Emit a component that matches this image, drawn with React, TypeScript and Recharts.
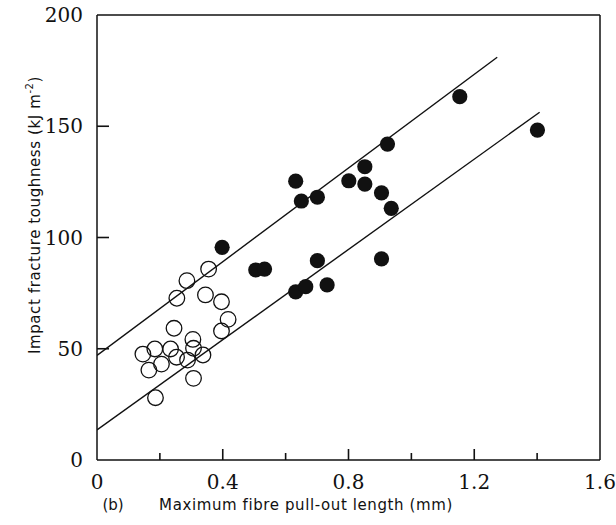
import React from "react";
import { ScatterChart, Scatter, XAxis, YAxis, ReferenceLine } from "recharts";

// open circles
const openLength = [0.355, 0.286, 0.254, 0.345, 0.396, 0.417, 0.396, 0.245, 0.305, 0.146, 0.184, 0.234, 0.253, 0.205, 0.165, 0.307, 0.288, 0.337, 0.307, 0.186];
const openToughness = [85.8, 80.6, 72.7, 74.2, 71.1, 63.2, 58.0, 59.2, 54.2, 47.6, 49.9, 49.9, 46.2, 43.1, 40.4, 50.2, 44.9, 47.2, 36.7, 28.0];

// filled circles
const filledLength = [0.398, 0.505, 0.533, 0.632, 0.664, 0.632, 0.65, 0.701, 0.701, 0.732, 0.801, 0.852, 0.852, 0.905, 0.905, 0.924, 0.936, 1.154, 1.401];
const filledToughness = [95.6, 85.4, 85.8, 75.6, 77.9, 125.3, 116.4, 118.1, 89.6, 78.7, 125.5, 131.8, 124.0, 120.1, 90.4, 142.0, 113.1, 163.3, 148.3];

// bounding lines (end points)
const upperLineX = [0, 1.273];
const upperLineY = [47, 181];
const lowerLineX = [0, 1.408];
const lowerLineY = [13.5, 156.3];

const xTicks = [0, 0.2, 0.4, 0.6, 0.8, 1.0, 1.2, 1.4, 1.6];
const xTickLabels = ["0", "", "0.4", "", "0.8", "", "1.2", "", "1.6"];
const yTicks = [0, 50, 100, 150, 200];
const yTickLabels = ["0", "50", "100", "150", "200"];

const zip = (xs: number[], ys: number[]) => xs.map((x, i) => ({ x, y: ys[i] }));

const openData = zip(openLength, openToughness);
const filledData = zip(filledLength, filledToughness);
const upperLine = zip(upperLineX, upperLineY);
const lowerLine = zip(lowerLineX, lowerLineY);

const INK = "#111";
const tickFont = "'DejaVu Serif', serif";
const titleFont = "'DejaVu Sans', sans-serif";

// tick labels only; the inward tick marks are drawn with ReferenceLine shapes
const XTick = (props: any) => {
  const i = xTicks.indexOf(props.payload.value);
  const label = xTickLabels[i] || "";
  if (!label) return <g />;
  return (
    <text x={props.x} y={Number(props.y) + 29} textAnchor="middle" fontFamily={tickFont} fontSize={20} fill={INK}>
      {label}
    </text>
  );
};

const YTick = (props: any) => {
  const i = yTicks.indexOf(props.payload.value);
  return (
    <text x={Number(props.x) - 14} y={Number(props.y) + 7} textAnchor="end" fontFamily={tickFont} fontSize={20} fill={INK}>
      {yTickLabels[i]}
    </text>
  );
};

const xMark = (len: number) => (p: any) => {
  const bottom = Math.max(Number(p.y1), Number(p.y2));
  return <line x1={p.x1} x2={p.x1} y1={bottom} y2={bottom - len} stroke={INK} strokeWidth={1.6} />;
};

const yMark = (len: number) => (p: any) => {
  const left = Math.min(Number(p.x1), Number(p.x2));
  return <line x1={left} x2={left + len} y1={p.y1} y2={p.y1} stroke={INK} strokeWidth={1.6} />;
};

const XTitle = () => (
  <g fontFamily={titleFont} fontSize={15} fill={INK}>
    <text x={113} y={510} textAnchor="middle">(b)</text>
    <text x={306} y={510} textAnchor="middle" letterSpacing={0.6}>
      Maximum fibre pull-out length (mm)
    </text>
  </g>
);

const YTitle = () => (
  <text
    x={35}
    y={215}
    transform="rotate(-90 35 215)"
    textAnchor="middle"
    dominantBaseline="central"
    fontFamily={titleFont}
    fontSize={15}
    fill={INK}
    letterSpacing={0.6}
  >
    Impact fracture toughness (kJ m
    <tspan dy={-6} fontSize={10}>-2</tspan>
    <tspan dy={6}>)</tspan>
  </text>
);

const OpenDot = (props: any) => (
  <circle cx={props.cx} cy={props.cy} r={7.8} fill="none" stroke={INK} strokeWidth={1.3} />
);
const FilledDot = (props: any) => <circle cx={props.cx} cy={props.cy} r={7.6} fill={INK} />;
const NoDot = () => <g />;

export default function App() {
  return (
    <div style={{ position: "absolute", left: 0, top: 0, background: "#fff" }}>
      <ScatterChart width={616} height={525} margin={{ top: 15, right: 16, left: 0, bottom: 0 }}>
        <XAxis
          type="number"
          dataKey="x"
          domain={[0, 1.6]}
          ticks={xTicks}
          interval={0}
          allowDataOverflow
          height={65}
          tickSize={0}
          tickMargin={0}
          tickLine={false}
          tick={<XTick />}
          axisLine={{ stroke: INK, strokeWidth: 1.5 }}
          label={{ content: () => <XTitle /> }}
        />
        <YAxis
          type="number"
          dataKey="y"
          domain={[0, 200]}
          ticks={yTicks}
          interval={0}
          allowDataOverflow
          width={97}
          tickSize={0}
          tickMargin={0}
          tickLine={false}
          tick={<YTick />}
          axisLine={{ stroke: INK, strokeWidth: 1.5 }}
          label={{ content: () => <YTitle /> }}
        />
        <ReferenceLine y={200} stroke={INK} strokeWidth={1.5} />
        <ReferenceLine x={1.6} stroke={INK} strokeWidth={1.5} />
        {xTicks.slice(1, -1).map((v, i) => (
          <ReferenceLine key={`xm${v}`} x={v} stroke={INK} shape={xMark(xTickLabels[i + 1] ? 11 : 7)} />
        ))}
        {yTicks.slice(1, -1).map((v) => (
          <ReferenceLine key={`ym${v}`} y={v} stroke={INK} shape={yMark(12)} />
        ))}
        <Scatter data={upperLine} line={{ stroke: INK, strokeWidth: 1.4 }} shape={<NoDot />} isAnimationActive={false} />
        <Scatter data={lowerLine} line={{ stroke: INK, strokeWidth: 1.4 }} shape={<NoDot />} isAnimationActive={false} />
        <Scatter data={openData} shape={<OpenDot />} isAnimationActive={false} />
        <Scatter data={filledData} shape={<FilledDot />} isAnimationActive={false} />
      </ScatterChart>
    </div>
  );
}
